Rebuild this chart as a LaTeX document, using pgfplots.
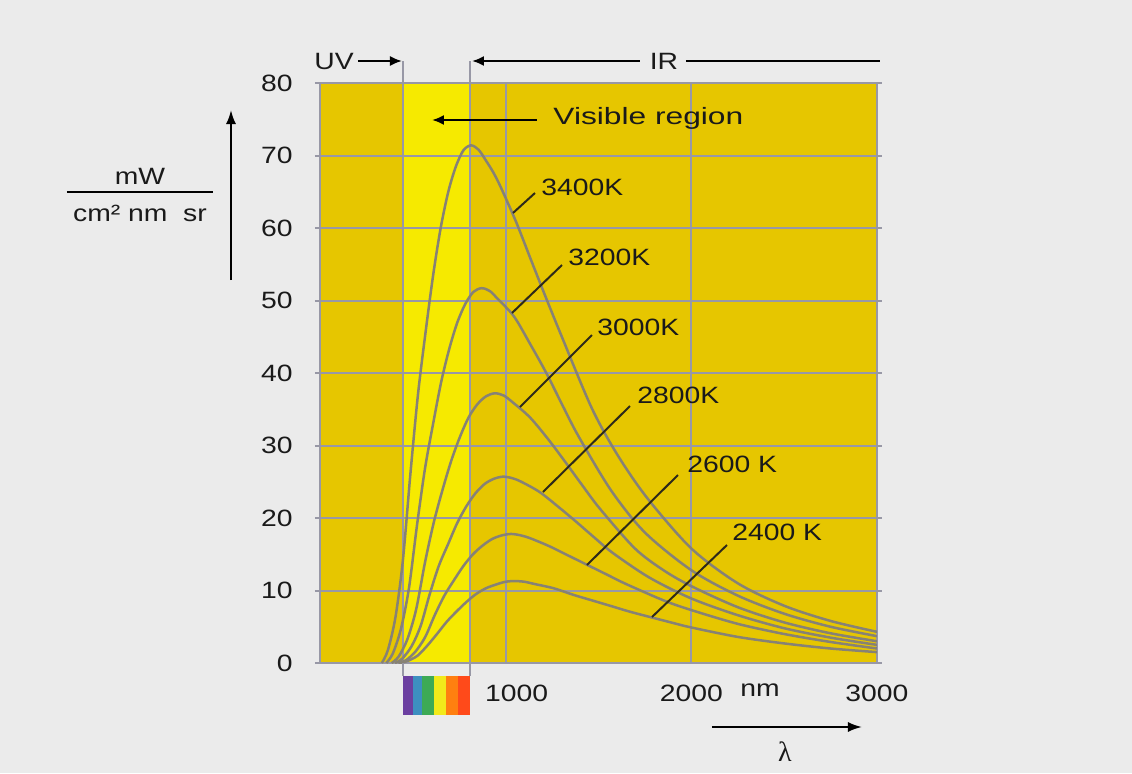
\documentclass[border=0pt]{standalone}
\usepackage{pgfplots}
\pgfplotsset{compat=1.18}
\usepackage{fontspec}
\setmainfont{Liberation Sans}[FakeStretch=1.2]
\newfontfamily\serifl{Liberation Serif}
\usetikzlibrary{arrows.meta}
\definecolor{bg}{HTML}{EBEBEB}
\definecolor{gold}{HTML}{E6C600}
\definecolor{visy}{HTML}{F6EA00}
\definecolor{gridc}{HTML}{9898A6}
\definecolor{curve}{HTML}{878275}
\definecolor{txt}{HTML}{1A1A1A}
\definecolor{callout}{HTML}{2E2A1A}
\definecolor{sp1}{HTML}{6B3FA0}
\definecolor{sp2}{HTML}{3D8FC0}
\definecolor{sp3}{HTML}{3DAA55}
\definecolor{sp4}{HTML}{F2EA1A}
\definecolor{sp5}{HTML}{FF7F10}
\definecolor{sp6}{HTML}{FF4A1A}
\newcommand{\lbl}{\fontsize{11.8}{14}\selectfont}
\pgfplotsset{planck/.style={draw=curve, line width=1.25pt, smooth, mark=none}}
\begin{document}
\begin{tikzpicture}[font=\lbl, text=txt]
\begin{scope}[x=0.5pt,y=-0.5pt,shift={(-160pt,331.5pt)}]
  \fill[bg] (0,0) rectangle (1132,773);
  \fill[gold] (320,83) rectangle (877,663);
  \fill[visy] (403,83) rectangle (470,663);
\end{scope}
\begin{axis}[
  at={(0,0)}, anchor=south west,
  scale only axis, width=278.5pt, height=290pt,
  xmin=0, xmax=3000, ymin=0, ymax=80,
  axis line style={draw=gridc, line width=1pt},
  grid=major, grid style={draw=gridc, line width=1pt},
  xtick={1000,2000,3000},
  xticklabels={\hspace{11pt}1000,2000,3000\hspace{7pt}},
  ytick={0,10,...,80},
  extra x ticks={445,806}, extra x tick labels={},
  extra x tick style={grid=major, xtick style={draw=none}},
  tick align=outside, major tick length=2.5pt,
  ytick style={draw=gridc, line width=1pt},
  xtick style={draw=none},
  xticklabel style={inner sep=0pt, anchor=base, yshift=-16.75pt},
  yticklabel style={inner sep=0pt, anchor=east, xshift=-11pt},
  ticklabel style={font=\lbl, text=txt},
  /pgf/number format/assume math mode=true,
]
% 3400 K
\addplot[planck] coordinates {(333,0) (366,1.8) (407,6.4) (447,14.3) (488,26.4) (528,37.1) (569,45.7) (610,53.6) (650,60.0) (691,65.0) (732,68.5) (772,70.7) (813,71.4) (854,70.8) (894,69.3) (935,67.6) (976,65.5) (1057,60.8) (1138,55.5) (1220,50.2) (1301,45.1) (1463,35.2) (1600,28.8) (1761,22.8) (2000,15.8) (2250,11.0) (2500,7.9) (2750,5.8) (3000,4.3)};
% 3200 K
\addplot[planck] coordinates {(357,0) (392,1.3) (436,4.7) (479,10.3) (523,19.1) (566,26.9) (610,33.1) (653,38.8) (697,43.4) (740,47.0) (784,49.6) (827,51.2) (871,51.7) (915,51.3) (958,50.2) (1045,47.8) (1132,44.0) (1219,40.0) (1307,35.5) (1394,31.2) (1568,23.8) (1750,18.0) (2000,12.8) (2250,9.3) (2500,6.8) (2750,5.0) (3000,3.7)};
% 3000 K
\addplot[planck] coordinates {(386,0) (424,0.9) (471,3.3) (518,7.4) (565,13.8) (612,19.3) (659,23.8) (707,27.9) (754,31.2) (801,33.9) (848,35.7) (895,36.8) (942,37.2) (989,36.9) (1036,36.0) (1130,33.9) (1225,31.0) (1319,27.8) (1413,24.5) (1507,21.3) (1696,15.8) (1850,12.8) (2000,10.6) (2250,7.7) (2500,5.6) (2750,4.1) (3000,3.0)};
% 2800 K
\addplot[planck] coordinates {(404,0) (443,0.6) (493,2.3) (542,5.1) (591,9.5) (640,13.4) (690,16.4) (739,19.3) (788,21.6) (837,23.4) (887,24.7) (936,25.4) (985,25.7) (1035,25.5) (1084,25.0) (1182,23.6) (1281,21.6) (1379,19.5) (1478,17.3) (1576,15.2) (1773,11.8) (2000,8.9) (2250,6.6) (2500,4.8) (2750,3.5) (3000,2.5)};
% 2600 K
\addplot[planck] coordinates {(422,0) (464,0.4) (515,1.6) (567,3.6) (618,6.6) (670,9.3) (721,11.4) (773,13.4) (824,15.0) (876,16.2) (927,17.1) (979,17.6) (1030,17.8) (1082,17.6) (1133,17.2) (1236,16.1) (1339,14.8) (1442,13.5) (1545,12.2) (1648,10.9) (1854,8.6) (2000,7.3) (2250,5.4) (2500,4.0) (2750,2.9) (3000,2.0)};
% 2400 K
\addplot[planck] coordinates {(431,0) (473,0.3) (525,1.0) (578,2.4) (630,4.0) (683,5.7) (735,7.1) (788,8.4) (840,9.5) (893,10.3) (945,10.8) (998,11.2) (1050,11.3) (1103,11.2) (1155,10.9) (1260,10.3) (1365,9.4) (1470,8.6) (1575,7.8) (1680,7.0) (1890,5.6) (2000,4.9) (2250,3.6) (2500,2.7) (2750,2.0) (3000,1.5)};
\end{axis}
\begin{scope}[x=0.5pt,y=-0.5pt,shift={(-160pt,331.5pt)}]
  \draw[gridc, line width=1pt] (403,61) -- (403,83);
  \draw[gridc, line width=1pt] (470,61) -- (470,83);
  \draw[gridc, line width=1pt] (403,663) -- (403,676);
  \draw[gridc, line width=1pt] (470,663) -- (470,676);
  \fill[sp1] (403,676) rectangle (413.3,715);
  \fill[sp2] (413.3,676) rectangle (421.9,715);
  \fill[sp3] (421.9,676) rectangle (433.9,715);
  \fill[sp4] (433.9,676) rectangle (445.9,715);
  \fill[sp5] (445.9,676) rectangle (457.9,715);
  \fill[sp6] (457.9,676) rectangle (470,715);
  \node[inner sep=0pt, anchor=west] at (314,61) {UV};
  \draw[line width=1pt, -{Latex[length=6pt,width=5pt]}] (358,61) -- (402,61);
  \draw[line width=1pt, -{Latex[length=6pt,width=5pt]}] (640,61) -- (472,61);
  \node[inner sep=0pt] at (664,61) {IR};
  \draw[line width=1pt] (686,61) -- (880,61);
  \draw[line width=1pt, -{Latex[length=6pt,width=5pt]}] (537,120) -- (432,120);
  \node[inner sep=0pt, anchor=west, xscale=1.12] at (553,118) {Visible region};
  \draw[callout, line width=1pt] (513,213) -- (535,193);
  \node[inner sep=0pt, anchor=west] at (541,187) {3400K};
  \draw[callout, line width=1pt] (512,313) -- (562,265);
  \node[inner sep=0pt, anchor=west] at (568,257) {3200K};
  \draw[callout, line width=1pt] (520,407) -- (592,335);
  \node[inner sep=0pt, anchor=west] at (597,327) {3000K};
  \draw[callout, line width=1pt] (543,492) -- (630,406);
  \node[inner sep=0pt, anchor=west] at (637,395) {2800K};
  \draw[callout, line width=1pt] (587,565) -- (678,475);
  \node[inner sep=0pt, anchor=west] at (687,464) {2600 K};
  \draw[callout, line width=1pt] (652,617) -- (727,545);
  \node[inner sep=0pt, anchor=west] at (732,532) {2400 K};
  \draw[line width=1pt, -{Latex[length=7pt,width=5pt]}] (231,280) -- (231,110);
  \node[inner sep=0pt] at (140,176) {mW};
  \draw[line width=0.8pt] (67,192) -- (213,192);
  \node[inner sep=0pt] at (140,213) {cm² nm\ \ sr};
  \node[inner sep=0pt] at (760,690) {nm};
  \draw[line width=1pt, -{Latex[length=7pt,width=5pt]}] (712,727) -- (862,727);
  \node[inner sep=0pt] at (785,752) {\serifl\fontsize{14}{16}\selectfont λ};
\end{scope}
\end{tikzpicture}
\end{document}
